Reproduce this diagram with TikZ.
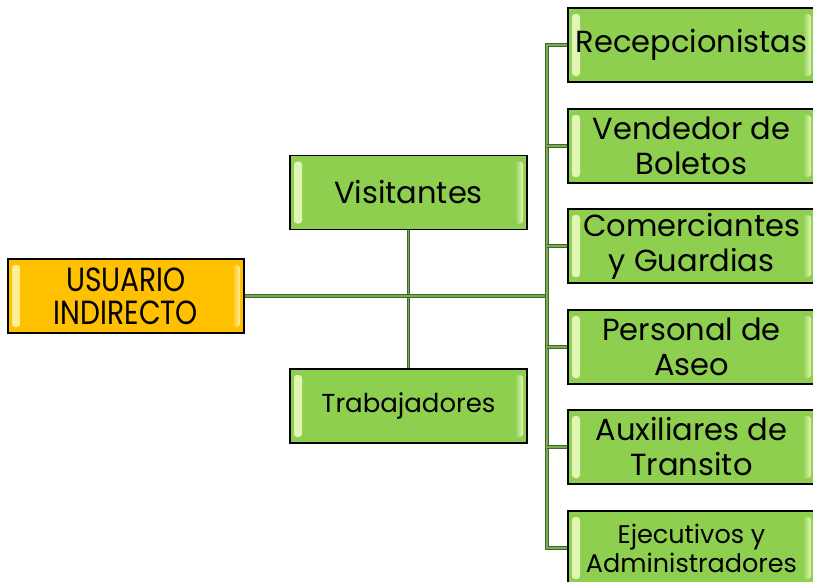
\documentclass[tikz,border=0pt]{standalone}
\usepackage{fontspec}
\setmainfont{Poppins}
\newfontfamily\narrowfont[FakeStretch=0.84]{Poppins}
\definecolor{boxgreen}{HTML}{8FCF50}
\definecolor{bevgreen}{HTML}{E4F6B8}
\definecolor{boxyellow}{HTML}{FFC000}
\definecolor{bevyellow}{HTML}{FFF09A}
\definecolor{lineg}{HTML}{74B044}
\definecolor{lined}{HTML}{46603A}
\tikzset{
  bevbox/.style 2 args={draw=black, line width=1.5pt, fill=#1, minimum width=237pt,
    minimum height=74pt, inner sep=0pt, align=center,
    path picture={
      \shade[left color=#2, right color=#1, rounded corners=3pt]
        ([xshift=4pt,yshift=-6pt]path picture bounding box.north west) rectangle
        ([xshift=12pt,yshift=6pt]path picture bounding box.south west);
      \shade[left color=#1, right color=#2, rounded corners=3pt]
        ([xshift=-12pt,yshift=-6pt]path picture bounding box.north east) rectangle
        ([xshift=-4pt,yshift=6pt]path picture bounding box.south east);
    }},
  gbox/.style={bevbox={boxgreen}{bevgreen}, font=\fontsize{30.5}{35}\selectfont},
  rbox/.style={gbox, minimum width=247pt},
  smallfont/.style={font=\fontsize{26}{29}\selectfont},
  xsmallfont/.style={font=\fontsize{25.5}{29}\selectfont},
  ybox/.style={bevbox={boxyellow}{bevyellow}, minimum width=236pt,
    font=\narrowfont\fontsize{33.5}{33}\selectfont},
  conn/.style={draw=lined, double=lineg, line width=0.8pt, double distance=1.8pt}
}
\begin{document}
\begin{tikzpicture}[x=1pt,y=-1pt]
\useasboundingbox (0,0) rectangle (813,581);
\node[ybox] (u) at (126,296) {USUARIO\\INDIRECTO};
\node[gbox] (v) at (408.5,192.5) {Visitantes};
\node[gbox,smallfont] (t) at (408.5,406) {Trabajadores};
\node[rbox] (r1) at (691.5,45) {Recepcionistas};
\node[rbox] (r2) at (691.5,146) {Vendedor de\\Boletos};
\node[rbox] (r3) at (691.5,246) {Comerciantes\\y Guardias};
\node[rbox] (r4) at (691.5,347) {Personal de\\Aseo};
\node[rbox] (r5) at (691.5,447) {Auxiliares de\\Transito};
\node[rbox,xsmallfont] (r6) at (691.5,548) {Ejecutivos y\\Administradores};
\coordinate (j) at (547,296);
\draw[conn] (v.south) -- (t.north);
\draw[conn] (u.east) -- (j);
\draw[conn] (r1.west) -- (r1.west -| j) -- (r6.west -| j) -- (r6.west);
\foreach \k in {2,3,4,5} \draw[conn] (r\k.west) -- (r\k.west -| j);
\end{tikzpicture}
\end{document}
